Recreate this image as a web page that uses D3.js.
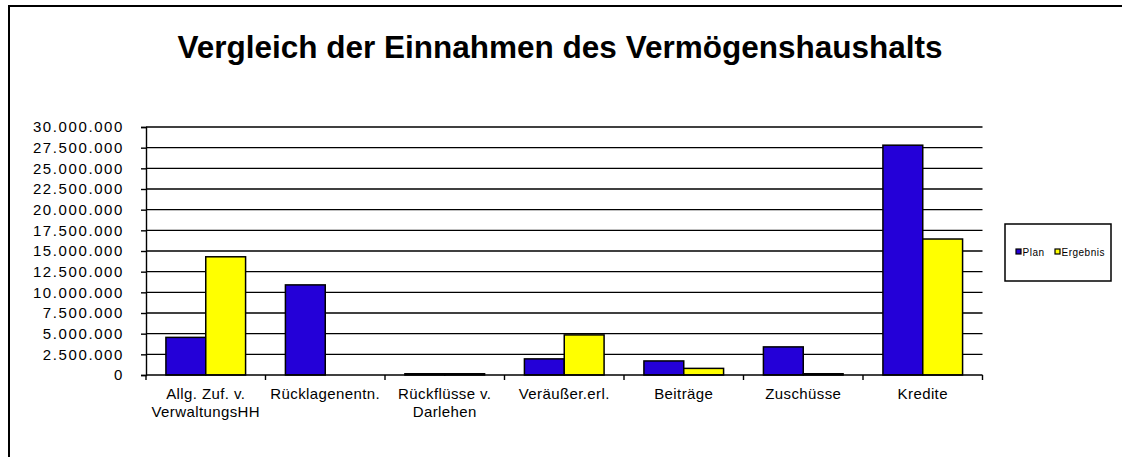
<!DOCTYPE html>
<html>
<head>
<meta charset="utf-8">
<script src="https://cdn.jsdelivr.net/npm/d3@7"></script>
<style>
  body { margin: 0; background: #fff; }
  svg { display: block; font-family: "Liberation Sans", Arial, sans-serif; }
</style>
</head>
<body>
<svg id="chart" width="1122" height="457"></svg>
<script>
// Einnahmen des Vermögenshaushalts, Plan vs. Ergebnis
const categories = [
  ['Allg. Zuf. v.', 'VerwaltungsHH'],
  ['Rücklagenentn.'],
  ['Rückflüsse v.', 'Darlehen'],
  ['Veräußer.erl.'],
  ['Beiträge'],
  ['Zuschüsse'],
  ['Kredite']
]
const series = ['Plan', 'Ergebnis']
const plan = [4550000, 10900000, 150000, 1950000, 1700000, 3400000, 27800000]
const ergebnis = [14300000, 0, 150000, 4850000, 800000, 150000, 16450000]
const yTicks = [0, 2500000, 5000000, 7500000, 10000000, 12500000, 15000000,
  17500000, 20000000, 22500000, 25000000, 27500000, 30000000]
const colors = { Plan: '#2400d8', Ergebnis: '#ffff00' }

const svg = d3.select('#chart')
const margin = { left: 146, right: 982.5, top: 127, bottom: 375 }

// outer frame (runs off the right/bottom edge like the reference)
svg.append('rect')
  .attr('x', 9).attr('y', 6)
  .attr('width', 1140).attr('height', 470)
  .attr('fill', 'none').attr('stroke', '#000').attr('stroke-width', 2)

svg.append('text')
  .attr('x', 560).attr('y', 58)
  .attr('text-anchor', 'middle')
  .attr('font-size', 31.5).attr('font-weight', 'bold')
  .text('Vergleich der Einnahmen des Vermögenshaushalts')

const keys = categories.map(c => c.join(' '))
const x = d3.scaleBand().domain(keys).range([margin.left, margin.right])
const xInner = d3.scaleBand().domain(series).range([0, x.bandwidth()]).paddingOuter(0.5)
const y = d3.scaleLinear().domain([0, 30000000]).range([margin.bottom, margin.top])

// gridlines
svg.append('g')
  .selectAll('line')
  .data(yTicks.slice(1))
  .join('line')
    .attr('x1', margin.left).attr('x2', margin.right)
    .attr('y1', d => y(d)).attr('y2', d => y(d))
    .attr('stroke', '#000').attr('stroke-width', 1.4)

// bars
const rows = keys.map((k, i) => ({ key: k, Plan: plan[i], Ergebnis: ergebnis[i] }))
svg.append('g')
  .selectAll('g')
  .data(rows)
  .join('g')
    .attr('transform', d => `translate(${x(d.key)},0)`)
  .selectAll('rect')
  .data(d => series.map(s => ({ s, v: d[s] })).filter(d => d.v > 0))
  .join('rect')
    .attr('x', d => xInner(d.s))
    .attr('width', xInner.bandwidth())
    .attr('y', d => y(d.v))
    .attr('height', d => y(0) - y(d.v))
    .attr('fill', d => colors[d.s])
    .attr('stroke', '#000').attr('stroke-width', 1.5)

// y axis
const fmt = d3.formatLocale({ decimal: ',', thousands: '.', grouping: [3], currency: ['', ''] }).format(',')
const yAxis = svg.append('g')
  .attr('transform', `translate(${margin.left},0)`)
  .call(d3.axisLeft(y).tickValues(yTicks).tickSize(5).tickPadding(17).tickFormat(fmt))
yAxis.select('.domain').attr('stroke', '#000').attr('stroke-width', 1.4)
yAxis.selectAll('.tick line').attr('stroke', '#000').attr('stroke-width', 1.4)
yAxis.selectAll('.tick text')
  .attr('font-size', 15).attr('fill', '#000')
  .attr('letter-spacing', '1.6px')
  .attr('font-family', '"Liberation Sans", Arial, sans-serif')

// x axis
const xAxis = svg.append('g')
  .attr('transform', `translate(0,${margin.bottom})`)
xAxis.append('line')
  .attr('x1', margin.left).attr('x2', margin.right)
  .attr('stroke', '#000').attr('stroke-width', 1.4)
const bounds = keys.map(k => x(k)).concat([margin.right])
xAxis.selectAll('line.tk')
  .data(bounds)
  .join('line')
    .attr('class', 'tk')
    .attr('x1', d => d).attr('x2', d => d)
    .attr('y1', 0).attr('y2', 5)
    .attr('stroke', '#000').attr('stroke-width', 1.4)

const lbl = xAxis.selectAll('text')
  .data(categories.map((c, i) => ({ lines: c, key: keys[i] })))
  .join('text')
    .attr('text-anchor', 'middle')
    .attr('font-size', 15)
    .attr('letter-spacing', '0.4px')
    .attr('transform', d => `translate(${x(d.key) + x.bandwidth() / 2},0)`)
lbl.selectAll('tspan')
  .data(d => d.lines)
  .join('tspan')
    .attr('x', 0)
    .attr('y', (d, i) => 23.5 + i * 18)
    .text(d => d)

// legend
const lg = svg.append('g')
lg.append('rect')
  .attr('x', 1005).attr('y', 224).attr('width', 106).attr('height', 57)
  .attr('fill', '#fff').attr('stroke', '#000').attr('stroke-width', 1.5)
const legendX = { Plan: 1016, Ergebnis: 1055 }
series.forEach(s => {
  lg.append('rect')
    .attr('x', legendX[s]).attr('y', 249).attr('width', 5).attr('height', 5)
    .attr('fill', colors[s]).attr('stroke', '#000').attr('stroke-width', 1.2)
  lg.append('text')
    .attr('x', legendX[s] + 6.5).attr('y', 256)
    .attr('font-size', 10).attr('letter-spacing', '0.5px')
    .text(s)
})
</script>
</body>
</html>
